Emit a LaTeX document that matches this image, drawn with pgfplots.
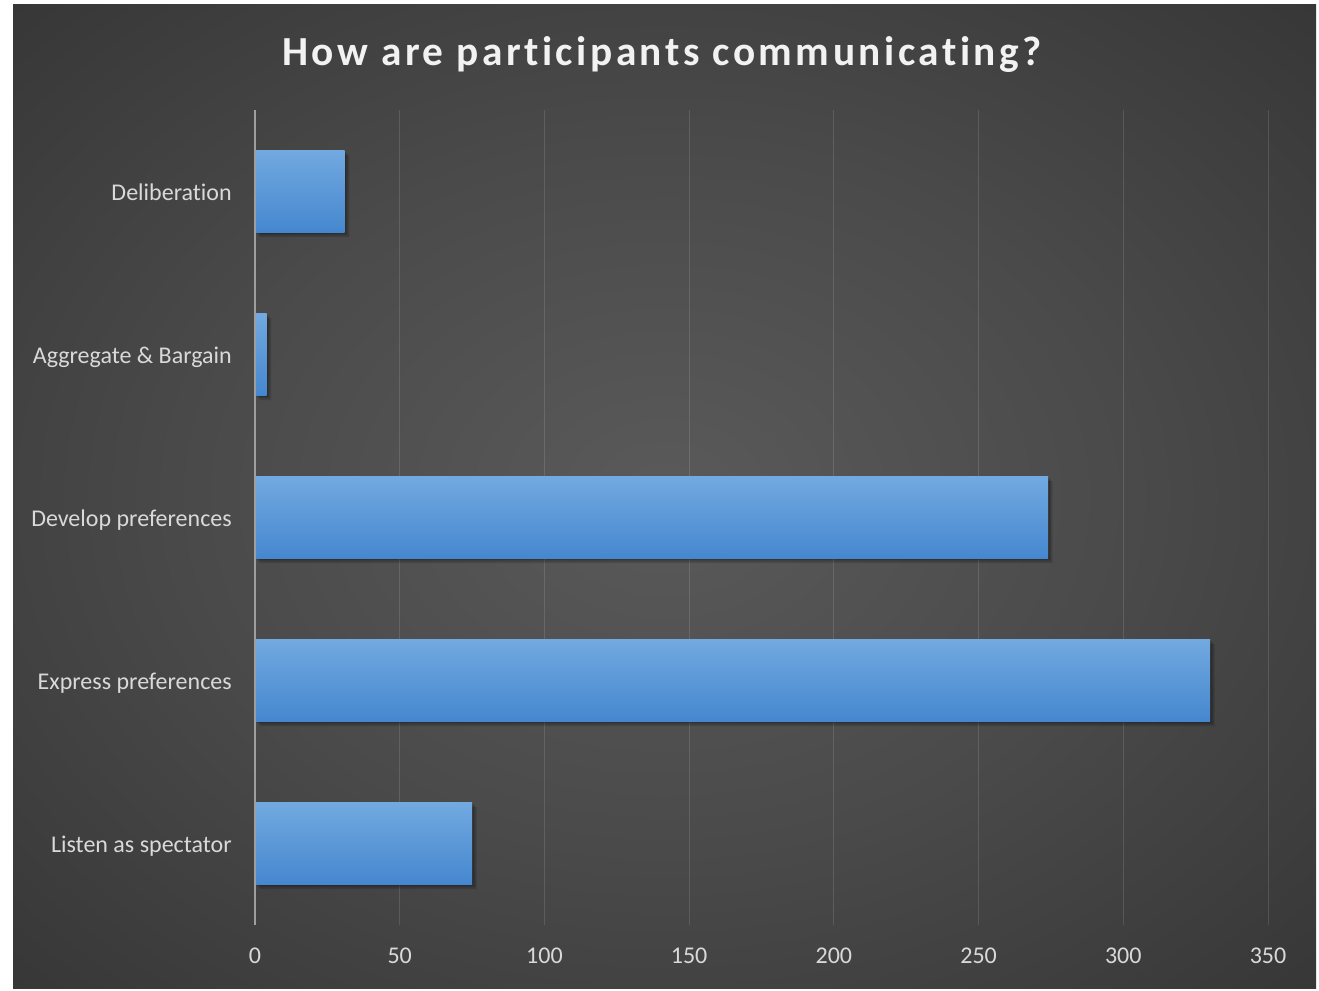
\documentclass[border=0pt]{standalone}
\usepackage{pgfplots}
\pgfplotsset{compat=1.18}
\usepackage{fontspec}
\setmainfont{Carlito}[Ligatures=NoCommon]
\definecolor{bgA}{HTML}{5A5A5A}
\definecolor{bgB}{HTML}{4A4A4A}
\definecolor{bgC}{HTML}{272727}
\definecolor{barTop}{HTML}{72A9E0}
\definecolor{barBot}{HTML}{4587CF}
\definecolor{lbl}{HTML}{D9D9D9}
\pgfdeclareradialshading{bgshade}{\pgfpoint{0bp}{0bp}}{color(0bp)=(bgA); color(18bp)=(bgB); color(50bp)=(bgC)}
\begin{document}
\begin{tikzpicture}
\fill[white] (0,0) rectangle (989.25pt,742.5pt);
\shade[shading=bgshade] (9.75pt,1.5pt) rectangle (987pt,738.75pt);
\node[anchor=base, text=white!95!black, font=\fontsize{31}{36}\selectfont\bfseries\addfontfeatures{LetterSpace=8.5}] at (496.5pt,693pt) {How are participants communicating?};
\begin{axis}[
  at={(191.25pt,48.75pt)}, anchor=south west,
  scale only axis, width=759.75pt, height=611.25pt,
  xbar, bar width=61.5pt, bar shift=0pt,
  xmin=0, xmax=350, ymin=-0.5, ymax=4.5,
  xtick={0,50,...,350},
  ytick={0,1,2,3,4},
  yticklabels={Listen as spectator, Express preferences, Develop preferences, Aggregate \& Bargain, Deliberation},
  axis line style={draw=none},
  major tick length=0pt,
  xmajorgrids, ymajorgrids=false,
  major grid style={white, opacity=0.12, line width=0.75pt},
  /pgf/number format/assume math mode=true,
  ticklabel style={font=\fontsize{18}{21}\selectfont, text=lbl},
  xticklabel style={anchor=north, inner sep=0pt, yshift=-17.25pt},
  yticklabel style={anchor=base east, inner sep=0pt, xshift=-17.25pt, yshift=-6.5pt},
  clip=false,
  shadowbar/.style={draw=none, fill=black, opacity=0.14, forget plot},
  bluebar/.style={draw=none, top color=barTop, bottom color=barBot, forget plot},
]
% soft shadows
\addplot[shadowbar, xshift=3.4pt, yshift=-3.4pt] coordinates {(75,0) (330,1) (274,2) (4,3) (31,4)};
\addplot[shadowbar, xshift=2.2pt, yshift=-2.2pt] coordinates {(75,0) (330,1) (274,2) (4,3) (31,4)};
\addplot[shadowbar, xshift=1.1pt, yshift=-1.1pt] coordinates {(75,0) (330,1) (274,2) (4,3) (31,4)};
% bars
\addplot[bluebar] coordinates {(75,0)};
\addplot[bluebar] coordinates {(330,1)};
\addplot[bluebar] coordinates {(274,2)};
\addplot[bluebar] coordinates {(4,3)};
\addplot[bluebar] coordinates {(31,4)};
\draw[color=white!62!black, line width=1.6pt] (axis cs:0,-0.5) -- (axis cs:0,4.5);
\end{axis}
\end{tikzpicture}
\end{document}
